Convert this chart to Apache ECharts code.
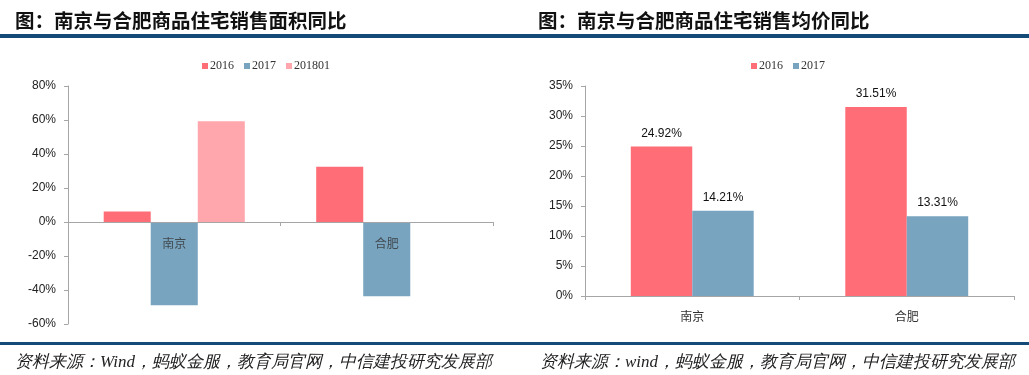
<!DOCTYPE html>
<html>
<head>
<meta charset="utf-8">
<script src="https://cdn.jsdelivr.net/npm/echarts@6/dist/echarts.min.js"></script>
<style>
html,body{margin:0;padding:0;background:#fff;}
#c{width:1029px;height:375px;}
</style>
</head>
<body>
<div id="c"></div>
<script>
// ---- data ----
const cities = ['南京', '合肥'];
const areaSeriesNames = ['2016', '2017', '201801'];
const area2016 = [6.2, 32.5];
const area2017 = [-49, -43.7];
const area201801 = [59.2, null];
const priceSeriesNames = ['2016', '2017'];
const price2016 = [24.92, 31.51];
const price2017 = [14.21, 13.31];
const leftTitle = '图：南京与合肥商品住宅销售面积同比';
const rightTitle = '图：南京与合肥商品住宅销售均价同比';
const leftSource = '资料来源：Wind，蚂蚁金服，教育局官网，中信建投研究发展部';
const rightSource = '资料来源：wind，蚂蚁金服，教育局官网，中信建投研究发展部';

const RED = '#FF6E76', BLUE = '#78A4BF', PINK = '#FFA7AD';
const AX = '#A6A6A6';
const sans = 'Liberation Sans, Arial, sans-serif';
const serif = 'Liberation Serif, DejaVu Serif, serif';
const cjk = 'Noto Sans CJK SC, sans-serif';

const chart = echarts.init(document.getElementById('c'), null, {renderer: 'canvas'});

function yAxisCfg(gi, min, max, interval) {
  return {
    type: 'value', gridIndex: gi, min: min, max: max, interval: interval,
    splitLine: {show: false},
    axisLine: {show: true, lineStyle: {color: AX, width: 1}},
    axisTick: {show: true, length: 4, lineStyle: {color: AX}},
    axisLabel: {formatter: '{value}%', color: '#222', fontSize: 12, fontFamily: sans, margin: 12}
  };
}
function xAxisCfg(gi, showLabel) {
  return {
    type: 'category', gridIndex: gi, data: cities, z: 5,
    axisLine: {show: true, onZero: true, lineStyle: {color: AX, width: 1}},
    axisTick: {show: true, length: 4, lineStyle: {color: AX}},
    axisLabel: {show: showLabel, color: '#333', fontSize: 12, fontFamily: cjk, margin: 14}
  };
}

chart.setOption({
  animation: false,
  title: [
    {text: leftTitle, left: 10, top: 6, textStyle: {fontSize: 19.5, fontWeight: 'bold', fontFamily: cjk, color: '#111'}},
    {text: rightTitle, left: 533, top: 6, textStyle: {fontSize: 19.5, fontWeight: 'bold', fontFamily: cjk, color: '#111'}},
    {text: leftSource, left: 10, top: 349, textStyle: {fontSize: 17, fontWeight: 'normal', fontStyle: 'italic', fontFamily: serif, color: '#222'}},
    {text: rightSource, left: 535, top: 349, textStyle: {fontSize: 17, fontWeight: 'normal', fontStyle: 'italic', fontFamily: serif, color: '#222'}}
  ],
  graphic: [
    {type: 'rect', shape: {x: 0, y: 34, width: 1029, height: 4}, style: {fill: '#134A78'}},
    {type: 'rect', shape: {x: 0, y: 342, width: 1029, height: 3}, style: {fill: '#134A78'}}
  ],
  legend: [
    {data: areaSeriesNames, left: 197, top: 55, icon: 'rect', itemWidth: 6, itemHeight: 6, itemGap: 10,
     textStyle: {fontSize: 12, fontFamily: serif, color: '#333', padding: [0, 0, 0, -3]},
     selectedMode: false},
    {data: ['2016 ', '2017 '], left: 746, top: 55, icon: 'rect', itemWidth: 6, itemHeight: 6, itemGap: 10,
     formatter: function (n) { return n.trim(); },
     textStyle: {fontSize: 12, fontFamily: serif, color: '#333', padding: [0, 0, 0, -3]},
     selectedMode: false}
  ],
  grid: [
    {left: 68, right: 536, top: 86, bottom: 51},
    {left: 585, right: 15, top: 86, bottom: 79}
  ],
  xAxis: [xAxisCfg(0, false), xAxisCfg(1, true)],
  yAxis: [yAxisCfg(0, -60, 80, 20), yAxisCfg(1, 0, 35, 5)],
  series: [
    {name: areaSeriesNames[0], type: 'bar', xAxisIndex: 0, yAxisIndex: 0, data: area2016,
     itemStyle: {color: RED}, barGap: '0%', barCategoryGap: '33.6%'},
    {name: areaSeriesNames[1], type: 'bar', xAxisIndex: 0, yAxisIndex: 0, data: area2017,
     itemStyle: {color: BLUE}, barGap: '0%', barCategoryGap: '33.6%'},
    {name: areaSeriesNames[2], type: 'bar', xAxisIndex: 0, yAxisIndex: 0, data: area201801,
     itemStyle: {color: PINK}, barGap: '0%', barCategoryGap: '33.6%'},
    // category names drawn at the zero line (as in the reference, labels sit by the zero-crossing axis)
    {name: 'catLabels', type: 'scatter', xAxisIndex: 0, yAxisIndex: 0, z: 10, silent: true,
     data: cities.map(function (c) { return [c, 0]; }),
     symbol: 'rect', symbolSize: 1, itemStyle: {color: 'rgba(0,0,0,0)'},
     label: {show: true, position: 'bottom', distance: 15, formatter: function (p) { return p.value[0]; },
             fontSize: 12, fontFamily: cjk, color: '#333'}},
    {name: priceSeriesNames[0] + ' ', type: 'bar', xAxisIndex: 1, yAxisIndex: 1, data: price2016,
     itemStyle: {color: RED}, barGap: '0%', barCategoryGap: '42.7%',
     label: {show: true, position: 'top', distance: 7, formatter: function (p) { return p.value.toFixed(2) + '%'; },
             fontSize: 12, fontFamily: sans, color: '#111'}},
    {name: priceSeriesNames[1] + ' ', type: 'bar', xAxisIndex: 1, yAxisIndex: 1, data: price2017,
     itemStyle: {color: BLUE}, barGap: '0%', barCategoryGap: '42.7%',
     label: {show: true, position: 'top', distance: 7, formatter: function (p) { return p.value.toFixed(2) + '%'; },
             fontSize: 12, fontFamily: sans, color: '#111'}}
  ]
});
</script>
</body>
</html>
